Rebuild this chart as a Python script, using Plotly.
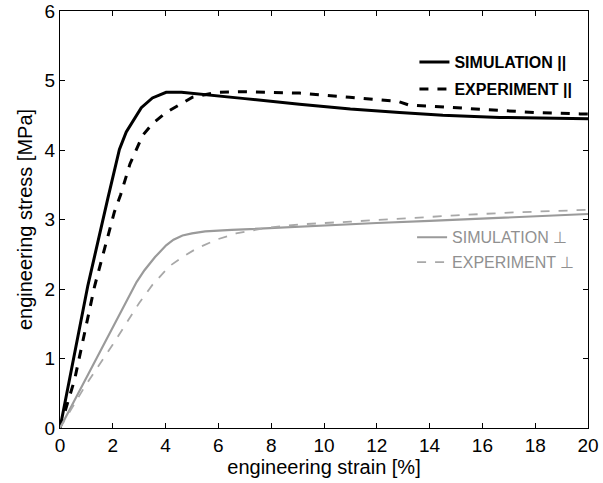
import plotly.graph_objects as go

# Simulation, parallel
sim_par_x = [0, 1.05, 1.81, 2.25, 2.51, 3.08, 3.5, 4.02, 4.6, 5.5, 7, 9.07, 11, 12.86, 14.5, 16.65, 18.5, 20]
sim_par_y = [0, 2.04, 3.30, 4.01, 4.26, 4.61, 4.75, 4.83, 4.83, 4.80, 4.74, 4.66, 4.59, 4.54, 4.50, 4.47, 4.46, 4.45]
# Experiment, parallel
exp_par_x = [0, 0.55, 1.31, 2.06, 2.3, 2.65, 3.13, 3.5, 4.02, 5.02, 5.92, 7, 8, 9.07, 10.97, 12.2, 12.8, 13.2, 14.5, 16.65, 18, 19.7, 20]
exp_par_y = [0, 0.69, 2.04, 3.11, 3.36, 3.80, 4.21, 4.38, 4.54, 4.76, 4.83, 4.84, 4.83, 4.82, 4.76, 4.72, 4.70, 4.65, 4.62, 4.57, 4.54, 4.52, 4.52]
# Simulation, perpendicular
sim_perp_x = [0, 1, 2, 2.6, 2.9, 3.2, 3.4, 3.6, 3.8, 4.02, 4.3, 4.64, 5.0, 5.5, 6.5, 7.5, 9.07, 12, 14, 16, 18, 20]
sim_perp_y = [0, 0.73, 1.46, 1.90, 2.10, 2.27, 2.37, 2.46, 2.54, 2.63, 2.71, 2.77, 2.80, 2.83, 2.85, 2.87, 2.90, 2.95, 2.98, 3.01, 3.05, 3.08]
# Experiment, perpendicular
exp_perp_x = [0, 0.93, 2, 3.0, 3.5, 4.15, 4.64, 5.16, 5.92, 6.67, 7.81, 9.07, 11, 13, 15, 17, 19, 20]
exp_perp_y = [0, 0.59, 1.2, 1.8, 2.06, 2.33, 2.46, 2.58, 2.71, 2.80, 2.88, 2.93, 2.97, 3.02, 3.06, 3.10, 3.13, 3.14]

x_ticks = list(range(0, 21, 2))
y_ticks = list(range(0, 7))

FONT = "Liberation Sans, Arial, Helvetica, sans-serif"
GRAY_S = "#9a9a9a"
GRAY_D = "#a8a8a8"

fig = go.Figure()
fig.add_trace(go.Scatter(x=sim_par_x, y=sim_par_y, mode="lines", name="<b>SIMULATION ||</b>",
                         line=dict(color="black", width=3), legend="legend", legendgroup="a"))
fig.add_trace(go.Scatter(x=exp_par_x, y=exp_par_y, mode="lines", name="<b>EXPERIMENT ||</b>",
                         line=dict(color="black", width=3, dash="dash"), legend="legend", legendgroup="b"))
fig.add_trace(go.Scatter(x=sim_perp_x, y=sim_perp_y, mode="lines", name="SIMULATION ⊥",
                         line=dict(color=GRAY_S, width=2.2), legend="legend2", legendgroup="c"))
fig.add_trace(go.Scatter(x=exp_perp_x, y=exp_perp_y, mode="lines", name="EXPERIMENT ⊥",
                         line=dict(color=GRAY_D, width=1.8, dash="dash"), legend="legend2", legendgroup="d"))

axis_common = dict(showline=True, linecolor="black", linewidth=1.2, mirror="ticks",
                   ticks="inside", ticklen=5, tickcolor="black", showgrid=False, zeroline=False,
                   tickfont=dict(family=FONT, size=19, color="black"), automargin=False)

fig.update_layout(
    width=603, height=483,
    margin=dict(l=60, r=15, t=11, b=55),
    paper_bgcolor="white", plot_bgcolor="white",
    font=dict(family=FONT, color="black"),
    xaxis=dict(range=[0, 20], tickvals=x_ticks, ticktext=[str(v) for v in x_ticks],
               title=dict(text="engineering strain [%]", font=dict(family=FONT, size=20), standoff=4),
               **axis_common),
    yaxis=dict(range=[0, 6.001], tickvals=y_ticks, ticktext=[str(v) for v in y_ticks],
               title=dict(text="engineering stress [MPa]", font=dict(family=FONT, size=20), standoff=6),
               **axis_common),
    legend=dict(x=0.98, y=0.918, xanchor="right", yanchor="top", bgcolor="rgba(0,0,0,0)",
                font=dict(family=FONT, size=16, color="black"), tracegroupgap=3, itemwidth=30),
    legend2=dict(x=0.985, y=0.498, xanchor="right", yanchor="top", bgcolor="rgba(0,0,0,0)",
                 font=dict(family=FONT, size=16, color="#909090"), tracegroupgap=1, itemwidth=30),
)

fig.write_html("out.html")
